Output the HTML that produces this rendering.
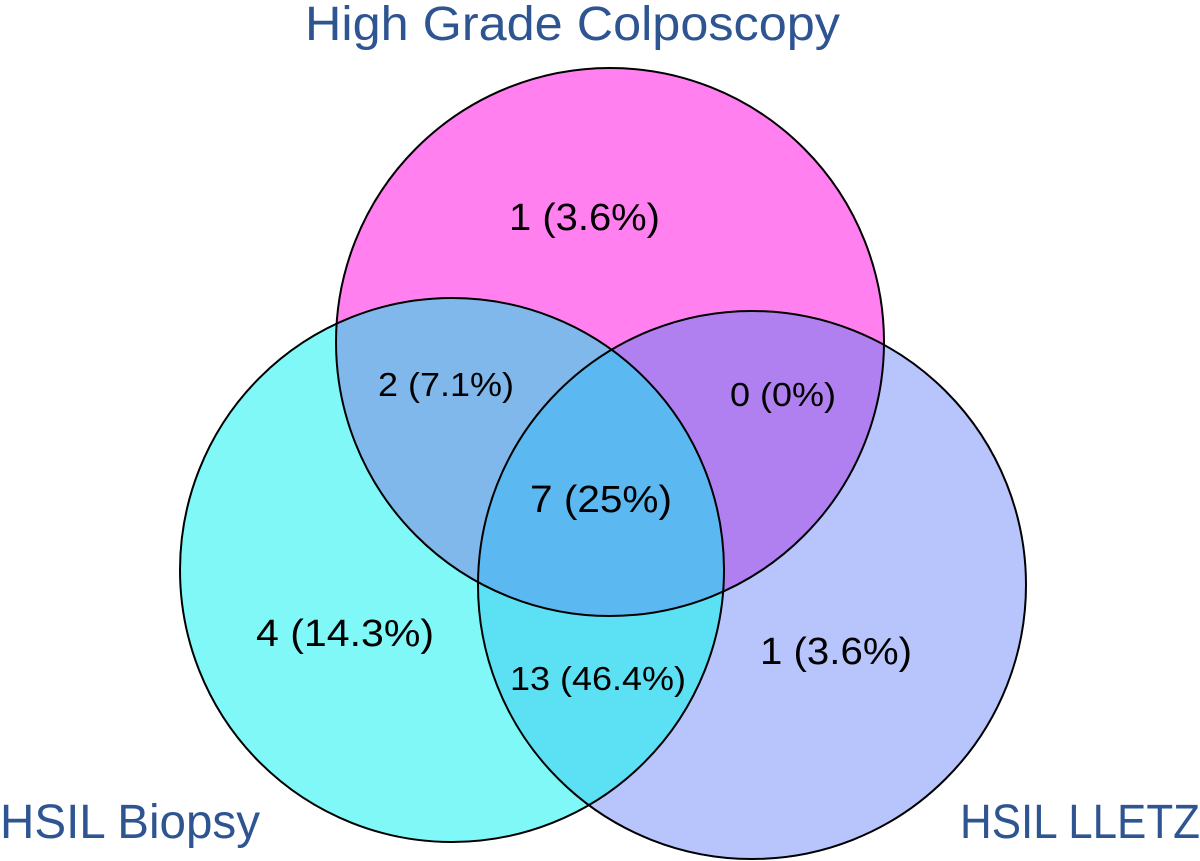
<!DOCTYPE html>
<html><head><style>body{margin:0;background:#fff}svg{display:block}</style></head><body>
<svg width="1200" height="861" viewBox="0 0 1200 861" xmlns="http://www.w3.org/2000/svg" font-family="Liberation Sans, DejaVu Sans, sans-serif">
<defs>
<clipPath id="cT"><circle cx="610" cy="342" r="274"/></clipPath>
<clipPath id="cL"><circle cx="452" cy="570" r="272"/></clipPath>
<clipPath id="cR"><circle cx="752" cy="585" r="274"/></clipPath>
</defs>
<circle cx="610" cy="342" r="274" fill="#ff80ee"/>
<circle cx="452" cy="570" r="272" fill="#80f8f8"/>
<circle cx="752" cy="585" r="274" fill="#b8c4fc"/>
<g clip-path="url(#cT)"><circle cx="452" cy="570" r="272" fill="#80b8ec"/><circle cx="752" cy="585" r="274" fill="#b080f0"/></g>
<g clip-path="url(#cL)"><circle cx="752" cy="585" r="274" fill="#5ce0f4"/></g>
<g clip-path="url(#cL)"><g clip-path="url(#cR)"><circle cx="610" cy="342" r="274" fill="#5cb8f0"/></g></g>
<g fill="none" stroke="#000" stroke-width="2">
<circle cx="610" cy="342" r="274"/><circle cx="452" cy="570" r="272"/><circle cx="752" cy="585" r="274"/>
</g>
<g fill="#2e5592" font-size="48">
<text x="305" y="40" textLength="535" lengthAdjust="spacingAndGlyphs">High Grade Colposcopy</text>
<text x="0" y="838" textLength="260" lengthAdjust="spacingAndGlyphs">HSIL Biopsy</text>
<text x="960" y="838" textLength="240" lengthAdjust="spacingAndGlyphs">HSIL LLETZ</text>
</g>
<g fill="#000">
<text x="509" y="230" font-size="38" textLength="151" lengthAdjust="spacingAndGlyphs">1 (3.6%)</text>
<text x="378" y="396" font-size="33" textLength="136" lengthAdjust="spacingAndGlyphs">2 (7.1%)</text>
<text x="730" y="406" font-size="33" textLength="106" lengthAdjust="spacingAndGlyphs">0 (0%)</text>
<text x="530" y="512" font-size="38" textLength="142" lengthAdjust="spacingAndGlyphs">7 (25%)</text>
<text x="256" y="646" font-size="38" textLength="178" lengthAdjust="spacingAndGlyphs">4 (14.3%)</text>
<text x="510" y="690" font-size="33" textLength="176" lengthAdjust="spacingAndGlyphs">13 (46.4%)</text>
<text x="760" y="664" font-size="38" textLength="152" lengthAdjust="spacingAndGlyphs">1 (3.6%)</text>
</g>
</svg>
</body></html>
